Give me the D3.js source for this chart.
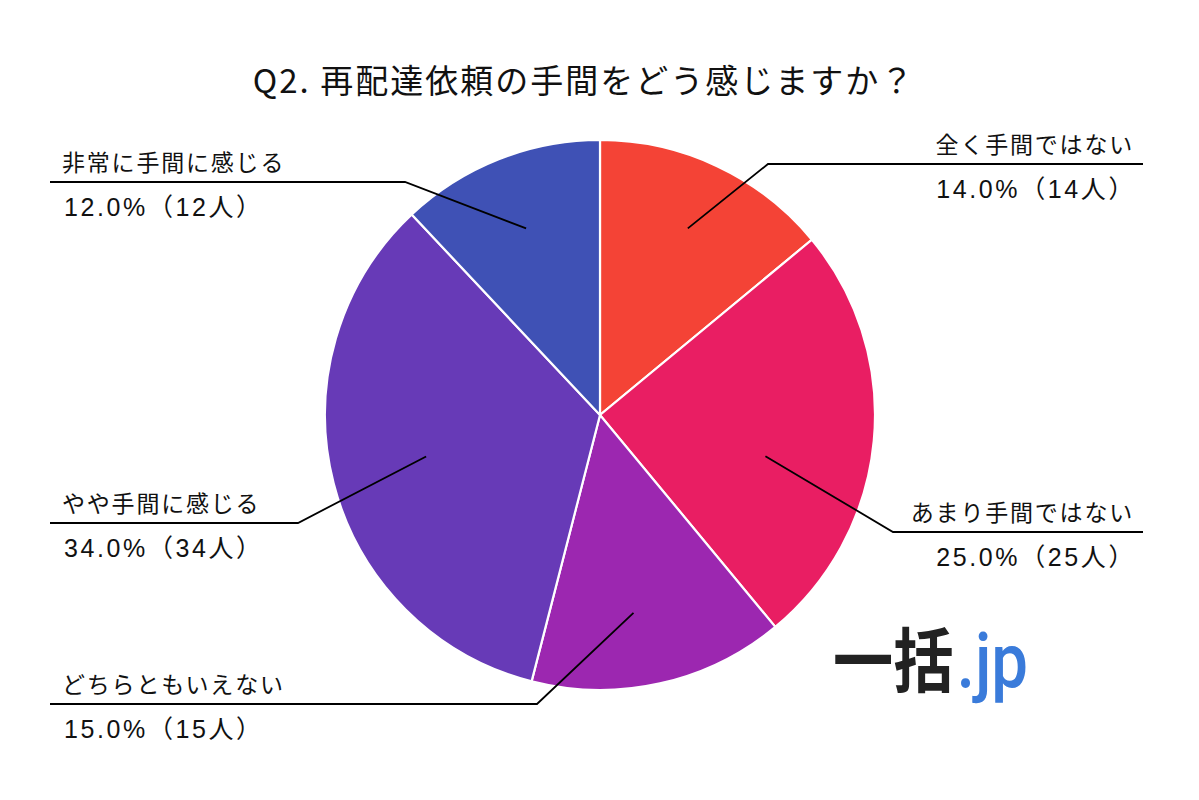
<!DOCTYPE html>
<html><head><meta charset="utf-8">
<script src="https://cdn.jsdelivr.net/npm/d3@7"></script>
<style>body{margin:0;background:#fff}</style>
</head><body><svg id="c" width="1199" height="800"></svg>
<script>
const title = "Q2. 再配達依頼の手間をどう感じますか？";
const categories = ["全く手間ではない","あまり手間ではない","どちらともいえない","やや手間に感じる","非常に手間に感じる"];
const counts = [14, 25, 15, 34, 12];
const percents = [14.0, 25.0, 15.0, 34.0, 12.0];
const colors = ["#F44336","#E91E63","#9C27B0","#673AB7","#3F51B5"];

// layout for annotation labels (not data)
const labelLayout = [
  {side:"right", lineY:164, elbowX:768, rf:0.75, da:0},
  {side:"right", lineY:532, elbowX:893, rf:0.62, da:8.6},
  {side:"left",  lineY:704, elbowX:537, rf:0.73, da:3},
  {side:"left",  lineY:523, elbowX:298, rf:0.65, da:1},
  {side:"left",  lineY:182, elbowX:405, rf:0.73, da:0}
];

const svg = d3.select("#c");
const W = 1199, H = 800;
const cx = 600, cy = 415, R = 275;
const FONT = "'Noto Sans CJK JP','Noto Sans',sans-serif";
const NUMFONT = "'Liberation Sans','Noto Sans CJK JP',sans-serif";

svg.append("rect").attr("width", W).attr("height", H).attr("fill", "#fff");

svg.append("text")
  .attr("x", 584).attr("y", 93)
  .attr("text-anchor", "middle")
  .attr("font-family", FONT).attr("font-size", 33)
  .attr("letter-spacing", 2)
  .attr("fill", "#111")
  .text(title);

const pie = d3.pie().sort(null).value(d => d);
const arcs = pie(counts);
const arc = d3.arc().innerRadius(0).outerRadius(R);
const color = d3.scaleOrdinal().domain(categories).range(colors);

const g = svg.append("g").attr("transform", `translate(${cx},${cy})`);
g.selectAll("path").data(arcs).join("path")
  .attr("d", arc)
  .attr("fill", (d, i) => color(categories[i]))
  .attr("stroke", "#fff").attr("stroke-width", 2.2);

// leaders and labels
arcs.forEach((d, i) => {
  const L = labelLayout[i];
  const a = (d.startAngle + d.endAngle) / 2 + L.da * Math.PI / 180;
  const rr = R * L.rf;
  const sx = cx + Math.sin(a) * rr, sy = cy - Math.cos(a) * rr;
  const endX = L.side === "right" ? 1143 : 50;
  svg.append("polyline")
    .attr("points", `${sx},${sy} ${L.elbowX},${L.lineY} ${endX},${L.lineY}`)
    .attr("fill", "none").attr("stroke", "#000").attr("stroke-width", 1.8);
  const tx = L.side === "right" ? 1134 : 62;
  const anchor = L.side === "right" ? "end" : "start";
  svg.append("text")
    .attr("x", tx).attr("y", L.lineY - 11)
    .attr("text-anchor", anchor)
    .attr("font-family", FONT).attr("font-size", 23)
    .attr("letter-spacing", 1.8)
    .attr("fill", "#111")
    .text(categories[i]);
  svg.append("text")
    .attr("x", tx + 2).attr("y", L.lineY + 34)
    .attr("text-anchor", anchor)
    .attr("font-family", NUMFONT).attr("font-size", 25)
    .attr("letter-spacing", 2.6)
    .attr("fill", "#111")
    .text(`${percents[i].toFixed(1)}%（${counts[i]}人）`);
});

// logo watermark (single text, horizontally condensed)
const logo = svg.append("g").attr("transform", "translate(833,687) scale(0.86,1)");
const lt = logo.append("text").attr("x", 0).attr("y", 0);
lt.append("tspan")
  .attr("font-family", FONT).attr("font-size", 70).attr("font-weight", 700)
  .attr("fill", "#222")
  .text("一括");
lt.append("tspan")
  .attr("dx", 4)
  .attr("font-family", "Roboto, 'Liberation Sans', sans-serif").attr("font-size", 76).attr("font-weight", 500)
  .attr("fill", "#3A7BDA")
  .text(".jp");
</script>
</body></html>
